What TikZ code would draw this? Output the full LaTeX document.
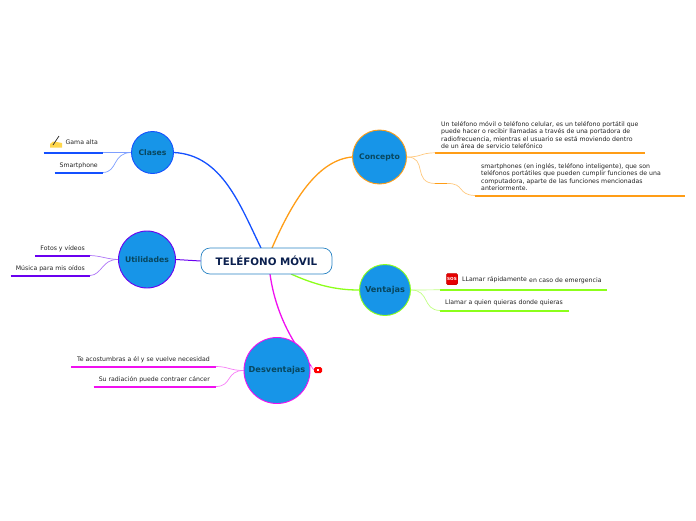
\documentclass[tikz,border=0pt]{standalone}
\usepackage{fontspec}
\setmainfont{DejaVu Sans}
\usetikzlibrary{backgrounds}
\definecolor{cblue}{HTML}{1450FF}
\definecolor{cpurple}{HTML}{6A00F0}
\definecolor{corange}{HTML}{FF9D16}
\definecolor{cgreen}{HTML}{8CFF1A}
\definecolor{cmag}{HTML}{F010F0}
\definecolor{nfill}{HTML}{1795E8}
\definecolor{ntext}{HTML}{08475F}
\definecolor{rtext}{HTML}{0A1F4E}
\definecolor{rline}{HTML}{2A84C4}
\definecolor{ltext}{HTML}{222222}
\newcommand{\hubtext}[1]{\raisebox{-0.8pt}{#1}}
\tikzset{
 hub/.style={circle,fill=nfill,draw=#1,line width=0.9pt,inner sep=0pt,text=ntext,font=\fontsize{7.7}{9}\selectfont\bfseries},
 bighub/.style={hub=#1,font=\fontsize{8.2}{9}\selectfont\bfseries},
 leaf/.style={inner sep=0pt,text=ltext,yshift=-0.6pt,font=\fontsize{6.2}{7.3}\selectfont,align=left},
 under/.style={line width=2pt,draw=#1},
 twig/.style={line width=0.7pt,draw=#1!55!white},
 main/.style={line width=1.3pt,draw=#1}
}
\begin{document}
\begin{tikzpicture}[x=1pt,y=-1pt]
\useasboundingbox (0,0) rectangle (696,520);
% central node
\node[draw=rline,fill=white,rounded corners=9pt,line width=0.7pt,minimum width=131pt,minimum height=26pt,inner sep=0pt,text=rtext,font=\fontsize{10.3}{12}\selectfont\bfseries] (root) at (266.5,261) {TELÉFONO MÓVIL};
% hubs
\node[hub=cblue,minimum size=42pt] (clases) at (152.5,152.5) {\hubtext{Clases}};
\node[hub=cpurple,minimum size=57pt] (util) at (147,259.5) {Utilidades};
\node[hub=corange,minimum size=54pt] (concepto) at (379.5,157) {\hubtext{Concepto}};
\node[bighub=cgreen,minimum size=51pt] (ventajas) at (385,290) {\hubtext{Ventajas}};
\node[bighub=cmag,minimum size=66pt] (desv) at (277,370.5) {\hubtext{Desventajas}};
% root anchors
\coordinate (rblue) at (261,248);
\coordinate (rorange) at (272,248);
\coordinate (rgreen) at (291,274);
\coordinate (rmag) at (270,274);
% leaf texts
\node[leaf,anchor=east] (gama) at (98,142) {Gama alta};
\node[leaf,anchor=east] (smart) at (98,165.5) {Smartphone};
\node[leaf,anchor=east] (fotos) at (85,248.5) {Fotos y vídeos};
\node[leaf,anchor=east] (musica) at (85,268.5) {Música para mis oídos};
\node[leaf,anchor=west] (c1) at (441,134.6) {Un teléfono móvil o teléfono celular, es un teléfono portátil que\\puede hacer o recibir llamadas a través de una portadora de\\radiofrecuencia, mientras el usuario se está moviendo dentro\\de un área de servicio telefónico};
\node[leaf,anchor=west] (c2) at (481,176.6) {smartphones (en inglés, teléfono inteligente), que son\\teléfonos portátiles que pueden cumplir funciones de una\\computadora, aparte de las funciones mencionadas\\anteriormente.};
\node[leaf,anchor=west] (v1a) at (462,279) {LLamar rápidamente};
\node[leaf,anchor=west] (v1b) at (529,280) {en caso de emergencia};
\node[leaf,anchor=west] (v2) at (445,302.5) {Llamar a quien quieras donde quieras};
\node[leaf,anchor=east] (d1) at (210,359.5) {Te acostumbras a él y se vuelve necesidad};
\node[leaf,anchor=east] (d2) at (210,379.5) {Su radiación puede contraer cáncer};
% icons
\node[fill=red!90!black,draw=red!70!black,line width=0.3pt,rounded corners=1.5pt,minimum size=11.5pt,inner sep=0pt,text=white,font=\fontsize{4.2}{5}\selectfont\bfseries] (sos) at (452,279) {SOS};
\node[fill=red,rounded corners=1.5pt,minimum width=8pt,minimum height=6pt,inner sep=0pt] (video) at (318,370) {};
\node[fill=white,minimum size=2pt,inner sep=0pt] (videoin) at (318,370) {};
\fill[orange!45!yellow!70!white] (50,147.5) -- (50,144) -- (53,141.5) -- (57,142) -- (62,143) -- (62,147.5) -- cycle;
\draw[black!80,line width=0.7pt] (53,145) -- (59,136);
% connectors
\begin{scope}[on background layer]
\draw[main=cblue] (clases.east) .. controls (222,155) and (240,205) .. (rblue);
\draw[main=corange] (concepto.west) .. controls (320,160) and (295,195) .. (rorange);
\draw[main=cpurple,line width=1pt] (util.east) -- (root.west);
\draw[main=cgreen] (ventajas.west) .. controls (340,290) and (320,287) .. (rgreen);
\draw[main=cmag] (rmag) .. controls (275,310) and (290,340) .. (311,366);
\draw[draw=cmag!70!white,line width=0.7pt] (311,366) -- (video.west);
% clases
\coordinate (a1) at (103,152.5);
\coordinate (a2) at (103,172.5);
\draw[under=cblue] (43.5,152.5) -- (a1);
\draw[under=cblue] (54.5,172.5) -- (a2);
\draw[twig=cblue] (a1) -- (clases.west);
\draw[twig=cblue] (a2) .. controls (118,172) and (112,153) .. (clases.west);
% utilidades
\coordinate (b1) at (90,255.5);
\coordinate (b2) at (90,275.5);
\draw[under=cpurple] (35,255.5) -- (b1);
\draw[under=cpurple] (10.5,275.5) -- (b2);
\draw[twig=cpurple] (b1) .. controls (102,256) and (106,259) .. (util.west);
\draw[twig=cpurple] (b2) .. controls (102,275) and (102,259) .. (util.west);
% concepto
\coordinate (e1) at (435,152.8);
\coordinate (e2) at (435,183.5);
\coordinate (e3) at (447,183.5);
\coordinate (e4) at (475,195.5);
\draw[under=corange] (e1) -- (644.5,152.8);
\draw[under=corange,line width=1.8pt] (e2) -- (e3);
\draw[under=corange] (e4) -- (685,195.5);
\draw[twig=corange] (concepto.east) .. controls (422,157) and (420,153) .. (e1);
\draw[twig=corange] (concepto.east) .. controls (428,157) and (412,183) .. (e2);
\draw[twig=corange] (e3) .. controls (465,183) and (457,195) .. (e4);
% ventajas
\coordinate (f1) at (440,289.8);
\coordinate (f2) at (440,310.5);
\draw[under=cgreen] (f1) -- (607,289.8);
\draw[under=cgreen] (f2) -- (568.5,310.5);
\draw[twig=cgreen] (ventajas.east) -- (f1);
\draw[twig=cgreen] (ventajas.east) .. controls (430,290) and (422,310) .. (f2);
% desventajas
\coordinate (g1) at (216,366.5);
\coordinate (g2) at (216,386.5);
\draw[under=cmag] (71,366.5) -- (g1);
\draw[under=cmag] (93.5,386.5) -- (g2);
\draw[twig=cmag] (g1) .. controls (228,366.5) and (230,370.5) .. (desv.west);
\draw[twig=cmag] (g2) .. controls (232,386.5) and (226,370.5) .. (desv.west);
\end{scope}
\end{tikzpicture}
\end{document}
